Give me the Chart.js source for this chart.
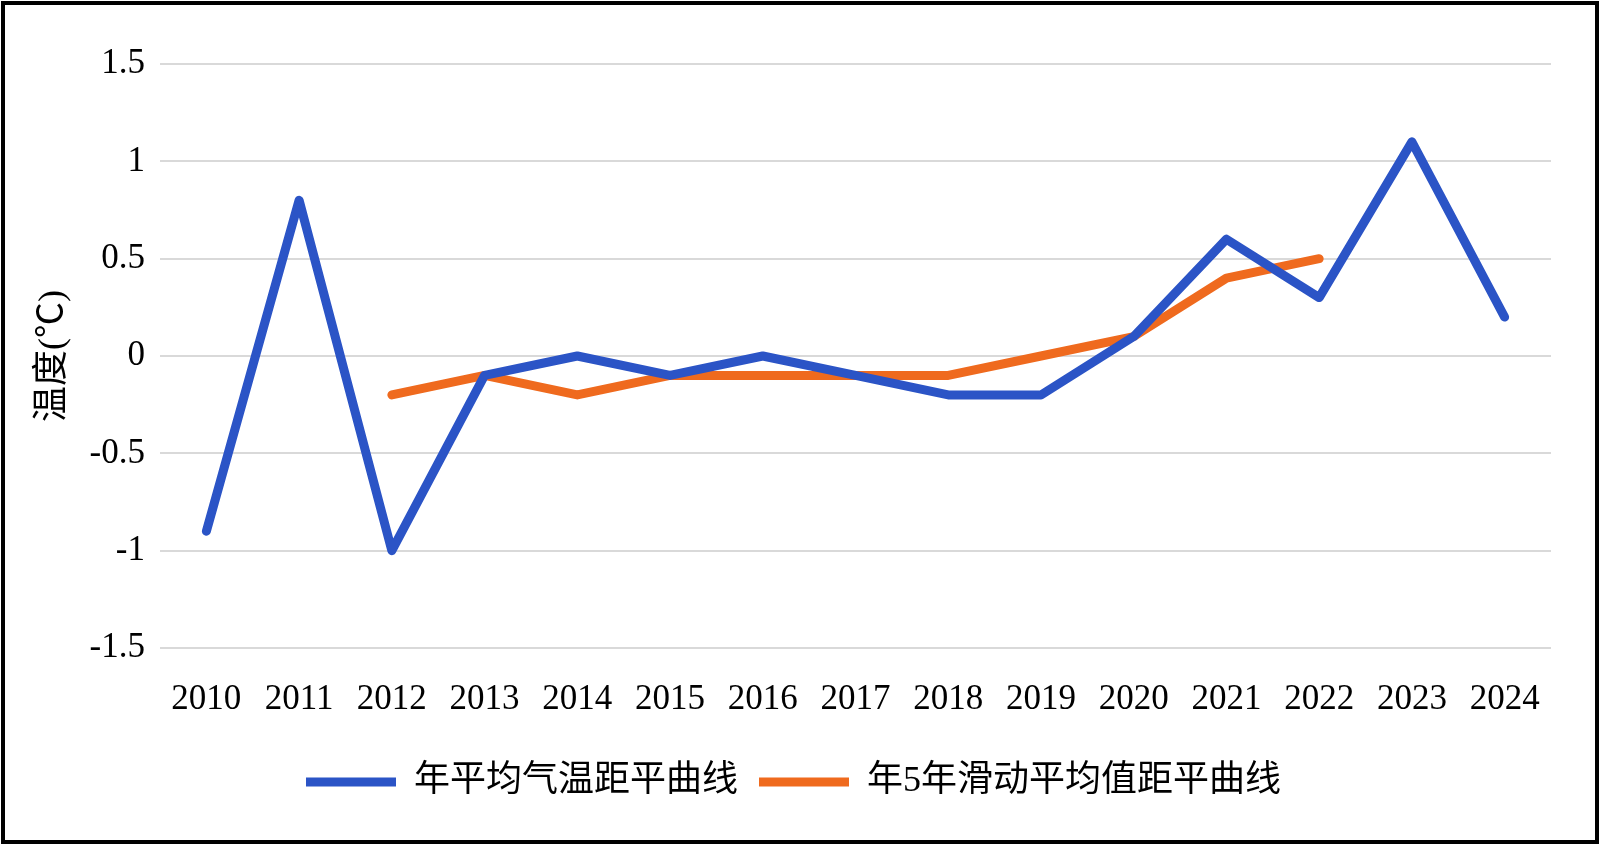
<!DOCTYPE html>
<html>
<head>
<meta charset="utf-8">
<script src="https://cdn.jsdelivr.net/npm/chart.js@4.4.1/dist/chart.umd.min.js"></script>
<style>
    html, body { margin: 0; padding: 0; background: #fff; }
    #marco {
        position: absolute;
        left: 1px; top: 1px;
        width: 1598px; height: 843px;
        box-sizing: border-box;
        border: 4px solid #000;
    }
    #chartAnomalia { display: block; }
</style>
</head>
<body>
<div id="marco">
    <canvas id="chartAnomalia" width="1590" height="835"></canvas>
</div>
<script>
// 数据
const anios = ['2010', '2011', '2012', '2013', '2014', '2015', '2016', '2017', '2018', '2019', '2020', '2021', '2022', '2023', '2024'];
const anomaliaAnual = [-0.9, 0.8, -1.0, -0.1, 0, -0.1, 0, -0.1, -0.2, -0.2, 0.1, 0.6, 0.3, 1.1, 0.2];
const mediaMovil5 = [null, null, -0.2, -0.1, -0.2, -0.1, -0.1, -0.1, -0.1, 0, 0.1, 0.4, 0.5, null, null];
const yTicks = [-1.5, -1, -0.5, 0, 0.5, 1, 1.5];

const fuenteNum = "'Liberation Serif', 'Times New Roman', 'Noto Sans CJK SC', serif";

let chartAnomalia;
function dibujarChart() {
    if (chartAnomalia) chartAnomalia.destroy();
    const ctx = document.getElementById('chartAnomalia');
    chartAnomalia = new Chart(ctx, {
        type: 'line',
        data: {
            labels: anios,
            datasets: [{
                label: '年平均气温距平曲线',
                data: anomaliaAnual,
                borderColor: '#2B54C6',
                backgroundColor: '#2B54C6',
                borderWidth: 9,
                borderCapStyle: 'round',
                borderJoinStyle: 'round',
                pointRadius: 0,
                tension: 0
            }, {
                label: '年5年滑动平均值距平曲线',
                data: mediaMovil5,
                borderColor: '#EF6A1E',
                backgroundColor: '#EF6A1E',
                borderWidth: 9,
                borderCapStyle: 'round',
                borderJoinStyle: 'round',
                pointRadius: 0,
                tension: 0
            }]
        },
        options: {
            responsive: false,
            animation: false,
            layout: {
                padding: { left: 31, right: 44, top: 59, bottom: 30 }
            },
            plugins: {
                tooltip: { enabled: false },
                legend: {
                    display: true,
                    position: 'bottom',
                    labels: {
                        usePointStyle: true,
                        pointStyle: 'line',
                        pointStyleWidth: 90,
                        padding: 21,
                        color: '#000',
                        font: { family: fuenteNum, size: 36 }
                    }
                }
            },
            scales: {
                x: {
                    offset: true,
                    grid: { display: false },
                    border: { display: false },
                    afterFit: (s) => { s.height = 95; },
                    ticks: {
                        color: '#000',
                        padding: 23,
                        maxRotation: 0,
                        autoSkip: false,
                        font: { family: fuenteNum, size: 35 }
                    }
                },
                y: {
                    min: -1.5,
                    max: 1.5,
                    afterBuildTicks: (s) => { s.ticks = yTicks.map(v => ({ value: v })); },
                    afterFit: (s) => { s.width = 124; },
                    grid: {
                        color: '#D9D9D9',
                        lineWidth: 2,
                        drawTicks: false
                    },
                    border: { display: false },
                    ticks: {
                        color: '#000',
                        padding: 15,
                        font: { family: fuenteNum, size: 35 },
                        callback: (v) => String(v)
                    },
                    title: {
                        display: true,
                        text: '温度(℃)',
                        color: '#000',
                        padding: 0,
                        font: { family: fuenteNum, size: 36, lineHeight: 0.95 }
                    }
                }
            }
        }
    });
}

dibujarChart();
</script>
</body>
</html>
